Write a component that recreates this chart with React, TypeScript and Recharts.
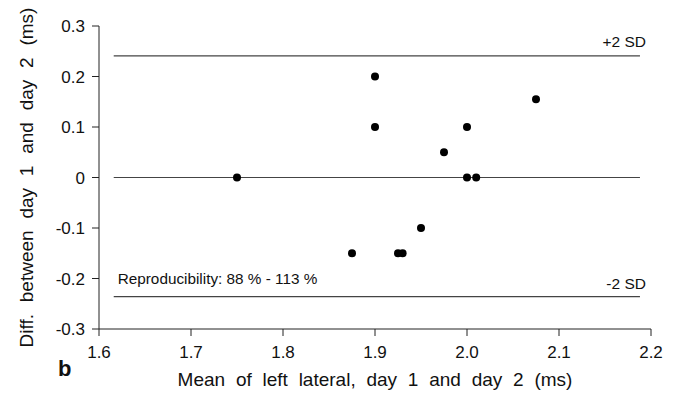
import { ScatterChart, Scatter, XAxis, YAxis, ReferenceLine } from "recharts";

const meanMs = [1.75, 1.9, 1.9, 1.875, 1.925, 1.93, 1.95, 1.975, 2.0, 2.0, 2.01, 2.075];
const diffMs = [0, 0.2, 0.1, -0.15, -0.15, -0.15, -0.1, 0.05, 0.1, 0, 0, 0.155];

const xTicks = [1.6, 1.7, 1.8, 1.9, 2.0, 2.1, 2.2];
const yTicks = [-0.3, -0.2, -0.1, 0, 0.1, 0.2, 0.3];

const upperSD = 0.241;
const lowerSD = -0.236;
const lineStart = 1.616;
const lineEnd = 2.188;

const data = meanMs.map((x, i) => ({ x, y: diffMs[i] }));

const FONT = "'Liberation Sans', Arial, Helvetica, sans-serif";

const Dot = (props: any) => <circle cx={props.cx} cy={props.cy} r={4} fill="#000" />;

export default function App() {
  return (
    <div style={{ position: "absolute", left: 0, top: 0, background: "#fff", fontFamily: FONT }}>
      <ScatterChart width={680} height={395} margin={{ top: 26, right: 29, bottom: 0, left: 0 }}>
        <XAxis
          type="number"
          dataKey="x"
          domain={[1.6, 2.2]}
          ticks={xTicks}
          tickFormatter={(v: number) => v.toFixed(1)}
          height={66}
          tickSize={7}
          tickMargin={10}
          stroke="#222"
          tick={{ fill: "#111", fontSize: 17, fontFamily: FONT }}
          label={{
            content: (p: any) => {
              const vb = p.viewBox;
              return (
                <g>
                  <text
                    x={vb.x + vb.width / 2}
                    y={vb.y + 57}
                    textAnchor="middle"
                    fontSize={19}
                    fill="#111"
                    fontFamily={FONT}
                    style={{ wordSpacing: "5.5px" }}
                  >
                    Mean of left lateral, day 1 and  day 2 (ms)
                  </text>
                  <text x={vb.x - 41} y={vb.y + 47} fontSize={22} fontWeight="bold" fill="#111" fontFamily={FONT}>
                    b
                  </text>
                </g>
              );
            },
          }}
        />
        <YAxis
          type="number"
          dataKey="y"
          domain={[-0.3, 0.3]}
          ticks={yTicks}
          tickFormatter={(v: number) => (v === 0 ? "0" : v.toFixed(1))}
          width={99}
          tickSize={7}
          tickMargin={7}
          stroke="#222"
          tick={{ fill: "#111", fontSize: 17, fontFamily: FONT }}
          label={{
            content: (p: any) => {
              const vb = p.viewBox;
              const cy = vb.y + vb.height / 2;
              return (
                <text
                  x={33}
                  y={cy}
                  transform={`rotate(-90 33 ${cy})`}
                  textAnchor="middle"
                  fontSize={19}
                  fill="#111"
                  fontFamily={FONT}
                  style={{ wordSpacing: "6.5px" }}
                >
                  Diff. between day 1 and day 2 (ms)
                </text>
              );
            },
          }}
        />
        <ReferenceLine
          segment={[{ x: lineStart, y: upperSD }, { x: lineEnd, y: upperSD }]}
          stroke="#444"
          strokeWidth={1.2}
          label={{
            content: (p: any) => {
              const vb = p.viewBox;
              return (
                <text x={vb.x + vb.width + 6} y={vb.y - 9} textAnchor="end" fontSize={15.5} fill="#111" fontFamily={FONT}>
                  +2 SD
                </text>
              );
            },
          }}
        />
        <ReferenceLine
          segment={[{ x: lineStart, y: 0 }, { x: lineEnd, y: 0 }]}
          stroke="#444"
          strokeWidth={1.2}
        />
        <ReferenceLine
          segment={[{ x: lineStart, y: lowerSD }, { x: lineEnd, y: lowerSD }]}
          stroke="#444"
          strokeWidth={1.2}
          label={{
            content: (p: any) => {
              const vb = p.viewBox;
              return (
                <g>
                  <text x={vb.x + 4} y={vb.y - 13} fontSize={15.3} fill="#111" fontFamily={FONT}>
                    Reproducibility: 88 % - 113 %
                  </text>
                  <text x={vb.x + vb.width + 6} y={vb.y - 8} textAnchor="end" fontSize={15.5} fill="#111" fontFamily={FONT}>
                    -2 SD
                  </text>
                </g>
              );
            },
          }}
        />
        <Scatter data={data} shape={Dot} isAnimationActive={false} />
      </ScatterChart>
    </div>
  );
}
